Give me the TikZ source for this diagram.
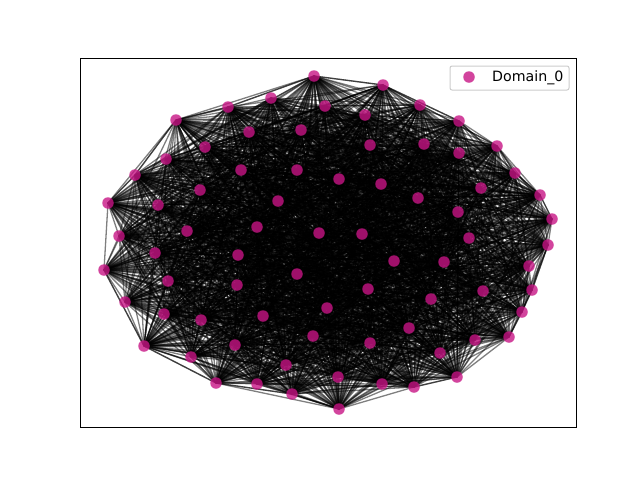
\documentclass[tikz,border=0pt]{standalone}
\usepackage{fontspec}
\setmainfont{DejaVu Sans}
\usetikzlibrary{backgrounds}
\definecolor{mvr}{RGB}{199,21,133}
\begin{document}
\begin{tikzpicture}[x=1pt,y=-1pt,
  vtx/.style={circle,fill=mvr,fill opacity=0.8,inner sep=0pt,minimum size=11.5pt},
  edge/.style={draw=black,draw opacity=0.5,line width=1.3pt},
  frame/.style={draw=black,line width=0.9pt}]
\useasboundingbox (0,0) rectangle (640,480);
\foreach \x/\y [count=\k] in {
314/76, 383/85, 271/98, 228/107, 325/106, 420/105, 365/115, 176/120, 459/121, 249/132,
301/130, 205/147, 424/144, 370/145, 497/146, 459/153, 166/159, 241/170, 297/170, 339/179,
381/184, 515/173, 135/175, 200/190, 481/188, 540/195, 108/203, 158/205, 278/201, 418/198,
458/212, 552/219, 119/236, 187/231, 257/227, 319/233, 362/234, 469/238, 548/245, 155/253,
238/255, 394/261, 444/262, 104/270, 297/274, 529/266, 168/281, 237/285, 368/289, 483/291,
532/290, 125/302, 431/299, 327/308, 164/314, 263/316, 201/320, 522/312, 409/328, 313/336,
475/340, 509/337, 144/346, 235/345, 370/343, 191/357, 440/353, 286/365, 338/377, 457/377,
216/383, 257/384, 382/384, 414/387, 292/394, 339/409}
  \node[vtx] (n\k) at (\x,\y) {};
\begin{scope}[on background layer]
\pgfmathsetseed{11}
\foreach \i in {1,...,75}{
  \pgfmathtruncatemacro\jstart{\i+1}
  \foreach \j in {\jstart,...,76}{
    \pgfmathtruncatemacro\keep{rnd<0.75 ? 1 : 0}
    \ifnum\keep=1 \draw[edge] (n\i.center) -- (n\j.center); \fi
  }
}
% hull edges
\foreach \a/\b in {8/4, 4/1, 1/2, 2/9, 9/15, 15/22, 22/26, 26/32, 32/39, 39/51, 51/62, 62/70,
  70/74, 74/76, 76/75, 75/71, 71/63, 63/44, 44/27, 27/23, 23/8}
  \draw[edge] (n\a.center) -- (n\b.center);
\end{scope}
\draw[frame] (80,58) rectangle (576,427);
\node[draw=black!20,fill=white,fill opacity=0.8,rounded corners=2pt,line width=1pt,
  minimum width=119pt,minimum height=24pt,inner sep=0pt] (leg) at (509.5,78) {};
\node[vtx] (legm) at (469,77) {};
\node[anchor=west,inner sep=0pt,font=\fontsize{14.2}{16}\selectfont] (legt) at (492,77.5) {Domain\_0};
\end{tikzpicture}
\end{document}
